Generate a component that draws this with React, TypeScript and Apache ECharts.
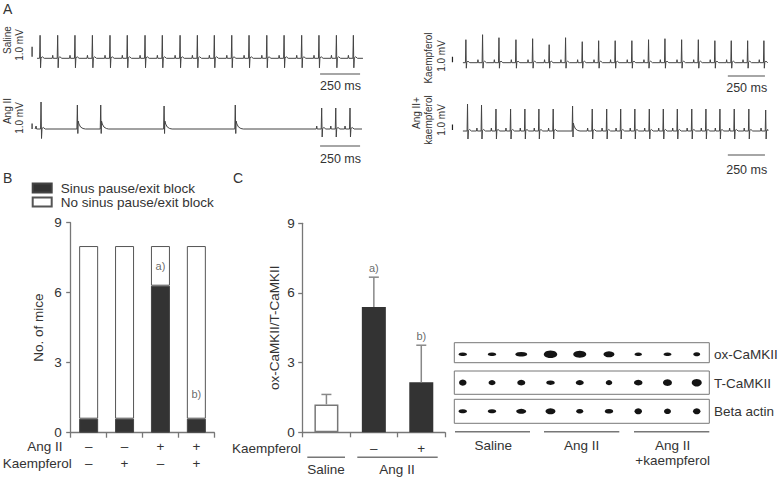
import React, { useEffect, useRef } from 'react';
import * as echarts from 'echarts';

const FONT = '"Liberation Sans", Arial, Helvetica, sans-serif';
const INK = '#333';
const AXIS = '#777';

// ---------------- Panel A: ECG traces (R-peak times in ms, amplitudes) ----------------
const salineBeatTimes = [19, 129, 237, 346, 456, 564, 675, 783, 894, 1002, 1108, 1217, 1325, 1436, 1544, 1654, 1762, 1871, 1977];
const salineUp = [2.3, 2.3, 2.3, 2.3, 2.3, 2.3, 2.3, 2.3, 2.3, 2.3, 2.3, 2.3, 2.3, 2.3, 2.3, 2.3, 2.3, 2.3, 2.3];
const salineDown = [0.95, 0.95, 0.95, 0.95, 0.95, 0.95, 0.95, 0.95, 0.95, 0.95, 0.95, 0.95, 0.95, 0.95, 0.95, 0.95, 0.95, 0.95, 0.95];
const salineKind = ['n', 'n', 'n', 'n', 'n', 'n', 'n', 'n', 'n', 'n', 'n', 'n', 'n', 'n', 'n', 'n', 'n', 'n', 'n'];

const angBeatTimes = [25, 252, 398, 794, 1239, 1779, 1867, 1956];
const angUp = [2.7, 2.4, 2.4, 2.3, 2.4, 2.1, 2.1, 2.1];
const angDown = [0.95, 0.45, 0.45, 0.45, 0.45, 0.8, 0.8, 0.8];
const angKind = ['n', 't', 't', 't', 't', 'n', 'n', 'n'];

const kaeBeatTimes = [20, 132, 242, 356, 468, 579, 689, 801, 911, 1022, 1134, 1246, 1356, 1468, 1580, 1691, 1801, 1911, 2020];
const kaeUp = [2.3, 2.8, 2.5, 2.3, 2.4, 1.8, 2.5, 2.1, 2.2, 2.2, 2.2, 2.3, 2.4, 2.3, 2.3, 2.2, 2.2, 2.2, 2.2];
const kaeDown = [0.55, 0.55, 0.55, 0.55, 0.55, 0.55, 0.55, 0.55, 0.55, 0.55, 0.55, 0.55, 0.55, 0.55, 0.55, 0.55, 0.55, 0.55, 0.55];
const kaeKind = ['n', 'n', 'n', 'n', 'n', 'n', 'n', 'n', 'n', 'n', 'n', 'n', 'n', 'n', 'n', 'n', 'n', 'n', 'n'];

const akBeatTimes = [31, 125, 222, 320, 416, 510, 606, 736, 868, 965, 1059, 1154, 1251, 1345, 1439, 1536, 1631, 1725, 1821, 1919, 2032];
const akUp = [2.7, 2.6, 2.2, 2.2, 2.2, 2.2, 2.2, 2.5, 2.2, 2.2, 2.2, 2.2, 2.2, 2.2, 2.2, 2.2, 2.2, 2.2, 2.2, 2.2, 2.1];
const akDown = [0.8, 0.8, 0.8, 0.8, 0.8, 0.8, 0.8, 0.6, 0.8, 0.8, 0.8, 0.8, 0.8, 0.8, 0.8, 0.8, 0.8, 0.8, 0.8, 0.8, 0.8];
const akKind = ['n', 'n', 'n', 'n', 'n', 'n', 'n', 't', 'n', 'n', 'n', 'n', 'n', 'n', 'n', 'n', 'n', 'n', 'n', 'n', 'n'];

// waveform templates: [ms offset, fixed mV, fraction of up, fraction of down]
const normalBeatShape = [[-34, 0, 0, 0], [-31, 0.3, 0, 0], [-28, 0, 0, 0], [-3, 0, 0, 0], [0, 0, 1, 0], [3, 0, 0, -1], [6, 0.05, 0, 0], [14, 0.15, 0, 0], [26, 0, 0, 0]];
const tailBeatShape = [[-3, 0, 0, 0], [0, 0, 1, 0], [3, 0, 0, -1], [5, 0.8, 0, 0], [10, 0.5, 0, 0], [20, 0.2, 0, 0], [35, 0.05, 0, 0], [50, 0, 0, 0]];

function buildTrace(times: number[], up: number[], down: number[], kind: string[], start: number, end: number) {
  const pts: number[][] = [[start, 0]];
  times.forEach((t, i) => {
    const shape = kind[i] === 't' ? tailBeatShape : normalBeatShape;
    shape.forEach(([dt, c, fu, fd]) => {
      const x = t + dt;
      if (x > start && x < end) pts.push([x, c + fu * up[i] + fd * down[i]]);
    });
  });
  pts.push([end, 0]);
  return pts;
}

// ---------------- Panel B ----------------
const bAngII = ['–', '–', '+', '+'];
const bKaempferol = ['–', '+', '–', '+'];
const bTotalMice = [8, 8, 8, 8];
const bPauseMice = [0.6, 0.6, 6.3, 0.6];
const bAnnotCat = [2, 3];
const bAnnotY = [7.15, 1.65];
const bAnnotText = ['a)', 'b)'];

// ---------------- Panel C ----------------
const cKaempferol = ['', '–', '+'];
const cMeans = [1.2, 5.4, 2.15];
const cSEM = [0.43, 1.28, 1.6];
const cAnnotCat = [1, 2];
const cAnnotY = [7.08, 4.14];
const cAnnotText = ['a)', 'b)'];

// ---------------- Western blot (band width/height per lane) ----------------
const blotRows = ['ox-CaMKII', 'T-CaMKII', 'Beta actin'];
const oxW = [8.5, 8.5, 12, 13.5, 13, 11, 7.5, 8, 7];
const oxH = [3.5, 3.5, 4.5, 7.5, 7, 6, 3.5, 3.5, 4];
const tW = [7.5, 7, 8, 8.5, 8, 6.5, 8.5, 9, 10];
const tH = [6, 5, 5.5, 4.5, 5, 5, 5.5, 6.5, 7.5];
const baW = [8.5, 8.5, 10, 10, 7, 8.5, 7.5, 7, 7.5];
const baH = [4, 4, 5, 6, 4.5, 4.5, 6, 5.5, 6];

export default function App() {
  const ref = useRef<HTMLDivElement>(null);
  useEffect(() => {
    if (!ref.current) return;
    const chart = echarts.init(ref.current, undefined, { renderer: 'svg' });

    const ecg = [
      { grid: { left: 30, top: 28.3, width: 336, height: 60 }, min: -44, max: 2056,
        data: buildTrace(salineBeatTimes, salineUp, salineDown, salineKind, 0, 2037), barT: -31, bar: [0.16, 1.16], tb: [1769, 2019], tbY: -1.57 },
      { grid: { left: 30, top: 99, width: 336, height: 60 }, min: -44, max: 2056,
        data: buildTrace(angBeatTimes, angUp, angDown, angKind, -12, 2031), barT: -31, bar: [0.0, 0.55], tb: [1769, 2019], tbY: -1.7 },
      { grid: { left: 448, top: 32.7, width: 322, height: 60 }, min: -100, max: 2061,
        data: buildTrace(kaeBeatTimes, kaeUp, kaeDown, kaeKind, 0, 2047), barT: -70, bar: [0.04, 0.6], tb: [1778, 2027], tbY: -1.33 },
      { grid: { left: 448, top: 101, width: 322, height: 60 }, min: -100, max: 2061,
        data: buildTrace(akBeatTimes, akUp, akDown, akKind, 0, 2047), barT: -70, bar: [0.1, 0.65], tb: [1778, 2027], tbY: -2.4 },
    ];

    const grids: any[] = [];
    const xAxes: any[] = [];
    const yAxes: any[] = [];
    const series: any[] = [];

    ecg.forEach((e, i) => {
      grids.push({ ...e.grid, outerBoundsMode: 'none' });
      xAxes.push({ type: 'value', gridIndex: i, min: e.min, max: e.max, show: false });
      yAxes.push({ type: 'value', gridIndex: i, min: -3, max: 3, show: false });
      series.push({ type: 'line', xAxisIndex: i, yAxisIndex: i, data: e.data, showSymbol: false, silent: true,
        lineStyle: { color: '#444', width: 1 } });
      series.push({ type: 'line', xAxisIndex: i, yAxisIndex: i, data: [[e.barT, e.bar[0]], [e.barT, e.bar[1]]], showSymbol: false, silent: true,
        lineStyle: { color: '#222', width: 1.2 } });
      series.push({ type: 'line', xAxisIndex: i, yAxisIndex: i, data: [[e.tb[0], e.tbY], [e.tb[1], e.tbY]], showSymbol: false, silent: true,
        lineStyle: { color: '#888', width: 1.5 } });
    });

    const axisText = { fontFamily: FONT, fontSize: 13.5, color: INK };

    // Panel B (grid 4)
    grids.push({ left: 70.7, top: 222.7, width: 143.6, height: 210, outerBoundsMode: 'none' });
    xAxes.push({ type: 'category', gridIndex: 4, data: bAngII.map((a, i) => `${a}\n${bKaempferol[i]}`),
      axisLine: { show: true, lineStyle: { color: AXIS, width: 1.3 } },
      axisTick: { show: true, length: 5, lineStyle: { color: AXIS, width: 1.3 } },
      axisLabel: { ...axisText, margin: 6, lineHeight: 16.6 } });
    yAxes.push({ type: 'value', gridIndex: 4, min: 0, max: 9, interval: 3,
      axisLine: { show: true, lineStyle: { color: AXIS, width: 1.3 } },
      axisTick: { show: true, length: 4.5, lineStyle: { color: AXIS, width: 1.3 } },
      splitLine: { show: false },
      axisLabel: { ...axisText, margin: 9 },
      name: 'No. of mice', nameLocation: 'middle', nameGap: 25, nameTextStyle: { ...axisText } });
    series.push({ name: 'Sinus pause/exit block', type: 'bar', xAxisIndex: 4, yAxisIndex: 4, stack: 'b', barWidth: 19,
      data: bPauseMice, itemStyle: { color: '#333', borderColor: '#444', borderWidth: 1 } });
    series.push({ name: 'No sinus pause/exit block', type: 'bar', xAxisIndex: 4, yAxisIndex: 4, stack: 'b', barWidth: 19,
      data: bTotalMice.map((t, i) => t - bPauseMice[i]), itemStyle: { color: '#fff', borderColor: '#555', borderWidth: 1 } });
    series.push({ type: 'scatter', xAxisIndex: 4, yAxisIndex: 4, symbolSize: 0, silent: true,
      data: bAnnotCat.map((c, i) => [c, bAnnotY[i]]),
      label: { show: true, position: 'inside', formatter: (p: any) => bAnnotText[p.dataIndex], fontFamily: FONT, fontSize: 11, color: '#444' } });

    // Panel C (grid 5)
    grids.push({ left: 302.7, top: 223.3, width: 142.3, height: 209, outerBoundsMode: 'none' });
    xAxes.push({ type: 'category', gridIndex: 5, data: cKaempferol,
      axisLine: { show: true, lineStyle: { color: AXIS, width: 1.3 } },
      axisTick: { show: true, length: 5, lineStyle: { color: AXIS, width: 1.3 } },
      axisLabel: { ...axisText, margin: 8, lineHeight: 16.6 } });
    yAxes.push({ type: 'value', gridIndex: 5, min: 0, max: 9, interval: 3,
      axisLine: { show: true, lineStyle: { color: AXIS, width: 1.3 } },
      axisTick: { show: true, length: 4.5, lineStyle: { color: AXIS, width: 1.3 } },
      splitLine: { show: false },
      axisLabel: { ...axisText, margin: 8 },
      name: 'ox-CaMKII/T-CaMKII', nameLocation: 'middle', nameGap: 21, nameTextStyle: { ...axisText } });
    const cFill = [{ color: '#fff', borderColor: '#777', borderWidth: 1.5 }, { color: '#333' }, { color: '#333' }];
    series.push({ type: 'bar', xAxisIndex: 5, yAxisIndex: 5, barWidth: 24,
      data: cMeans.map((m, i) => ({ value: m, itemStyle: cFill[i] })) });
    series.push({ type: 'custom', xAxisIndex: 5, yAxisIndex: 5, z: 5, silent: true,
      data: cMeans.map((m, i) => [i, m, m + cSEM[i]]),
      encode: { x: 0, y: [1, 2] },
      renderItem: (params: any, api: any) => {
        const i = api.value(0);
        const lo = api.coord([i, api.value(1)]);
        const hi = api.coord([i, api.value(2)]);
        const st = { stroke: '#888', lineWidth: 1.5 };
        return { type: 'group', children: [
          { type: 'line', shape: { x1: lo[0], y1: lo[1], x2: hi[0], y2: hi[1] }, style: st },
          { type: 'line', shape: { x1: hi[0] - 5, y1: hi[1], x2: hi[0] + 5, y2: hi[1] }, style: st },
        ] };
      } });
    series.push({ type: 'scatter', xAxisIndex: 5, yAxisIndex: 5, symbolSize: 0, silent: true,
      data: cAnnotCat.map((c, i) => [c, cAnnotY[i]]),
      label: { show: true, position: 'inside', formatter: (p: any) => cAnnotText[p.dataIndex], fontFamily: FONT, fontSize: 11, color: '#444' } });

    // Western blot grids 6,7,8
    const blotGrid = [
      { top: 342.7, height: 20 },
      { top: 371, height: 23.3 },
      { top: 399.3, height: 24 },
    ];
    const bandW = [oxW, tW, baW];
    const bandH = [oxH, tH, baH];
    const bandY = [0.42, 0.5, 0.5];
    blotGrid.forEach((g, r) => {
      const gi = 6 + r;
      grids.push({ left: 454.3, width: 255, ...g, show: true, borderColor: '#777', borderWidth: 1, backgroundColor: 'transparent', outerBoundsMode: 'none' });
      xAxes.push({ type: 'value', gridIndex: gi, min: -0.29, max: 8.43, show: false });
      yAxes.push({ type: 'value', gridIndex: gi, min: 0, max: 1, show: false });
      series.push({ type: 'scatter', xAxisIndex: gi, yAxisIndex: gi, silent: true, symbol: 'circle',
        data: bandW[r].map((w, lane) => ({ value: [lane, bandY[r]], symbolSize: [w, bandH[r][lane]] })),
        itemStyle: { color: '#141414', opacity: 1 } });
    });

    const txt = (text: string, x: number, y: number, opts: any = {}) => ({
      type: 'text', x, y, rotation: opts.rot ? Math.PI / 2 : 0, silent: true,
      style: { text, fill: opts.fill || INK, font: `${opts.size || 13.5}px ${FONT}`, align: opts.align || 'center', verticalAlign: 'middle' },
    });
    const ln = (x1: number, y1: number, x2: number, y2: number) => ({
      type: 'line', silent: true, shape: { x1, y1, x2, y2 }, style: { stroke: '#777', lineWidth: 1.5 },
    });

    const graphic = [
      txt('A', 3, 9, { size: 14, align: 'left' }),
      txt('B', 3, 178, { size: 14, align: 'left' }),
      txt('C', 233, 178, { size: 14, align: 'left' }),
      txt('Saline', 7.5, 40, { size: 10, rot: true }),
      txt('1.0 mV', 19, 45, { size: 10, rot: true }),
      txt('Ang II', 7.5, 111, { size: 10, rot: true }),
      txt('1.0 mV', 19, 118, { size: 10, rot: true }),
      txt('Kaempferol', 428, 58, { size: 10, rot: true }),
      txt('1.0 mV', 441, 56, { size: 10, rot: true }),
      txt('Ang II+', 416.5, 113, { size: 10, rot: true }),
      txt('kaempferol', 428, 120, { size: 10, rot: true }),
      txt('1.0 mV', 441, 120, { size: 10, rot: true }),
      txt('250 ms', 340.5, 86, { size: 12.5 }),
      txt('250 ms', 340.5, 158.5, { size: 12.5 }),
      txt('250 ms', 746.7, 88, { size: 12.5 }),
      txt('250 ms', 746.7, 170, { size: 12.5 }),
      txt('Ang II', 62.5, 446.7, { align: 'right' }),
      txt('Kaempferol', 71.7, 463.3, { align: 'right' }),
      txt('Kaempferol', 301, 448.3, { align: 'right' }),
      ln(307.3, 457.3, 345, 457.3),
      ln(357.3, 457.3, 437.7, 457.3),
      txt('Saline', 326, 469.5),
      txt('Ang II', 397, 469.5),
      txt(blotRows[0], 714, 354.3, { align: 'left' }),
      txt(blotRows[1], 714, 383.3, { align: 'left' }),
      txt(blotRows[2], 714, 411, { align: 'left' }),
      ln(455, 431.7, 530, 431.7),
      ln(544, 431.7, 619.3, 431.7),
      ln(634, 431.7, 709.3, 431.7),
      txt('Saline', 493.3, 445),
      txt('Ang II', 581.7, 445),
      txt('Ang II', 672.7, 445),
      txt('+kaempferol', 672.7, 460.5),
    ];

    chart.setOption({
      animation: false,
      backgroundColor: '#fff',
      textStyle: { fontFamily: FONT },
      legend: {
        data: ['Sinus pause/exit block', 'No sinus pause/exit block'],
        orient: 'vertical', left: 31.7, top: 181, padding: 0, itemGap: 0,
        itemWidth: 19, itemHeight: 9, icon: 'rect', selectedMode: false,
        textStyle: { fontFamily: FONT, fontSize: 13.5, color: INK, padding: [0, 0, 0, 4] },
      },
      grid: grids,
      xAxis: xAxes,
      yAxis: yAxes,
      series,
      graphic,
    });
    return () => chart.dispose();
  }, []);
  return <div ref={ref} style={{ position: 'fixed', left: 0, top: 0, width: 778, height: 478, background: '#fff' }} />;
}
